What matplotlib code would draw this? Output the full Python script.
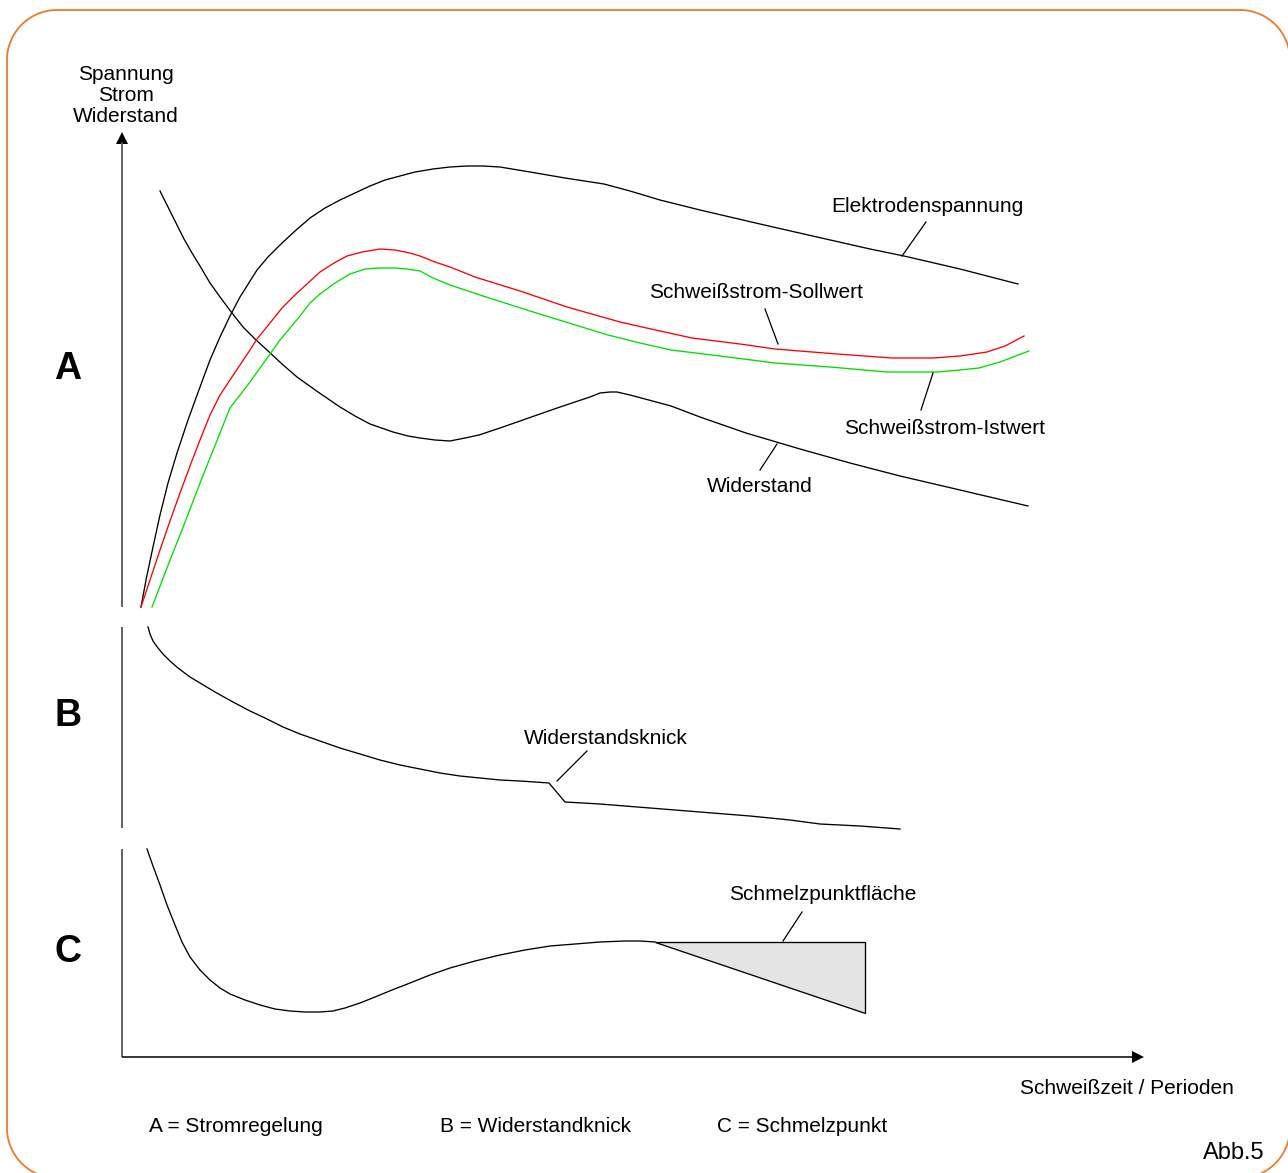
import numpy as np
import matplotlib
matplotlib.use("Agg")
import matplotlib.pyplot as plt
from matplotlib.patches import Polygon

plt.rcParams['font.family'] = ['Liberation Sans', 'DejaVu Sans']

# ---------------- data (diagram coordinates, y grows downward) ----------------
# Panel A
elektroden_x = [141, 146, 153, 160, 168, 177, 188, 200, 210, 220, 230, 240, 257, 268, 280, 295, 310, 325, 340, 355,
                370, 385, 400, 415, 433, 450, 467, 483, 500, 530, 565, 604, 630, 660, 700, 760, 817, 870, 904, 960,
                1018]
elektroden_y = [607, 580, 547, 515, 483, 453, 420, 387, 360, 337, 316, 297, 270, 257, 245, 231, 218, 208, 200, 193,
                186, 180, 176, 172, 169, 167, 166, 166, 167, 172, 178, 184, 191, 200, 210, 224, 237, 249, 256, 269,
                284]

widerstand_x = [160, 168, 176, 184, 192, 200, 210, 220, 232, 243, 255, 267, 282, 297, 318, 340, 355, 370, 393, 408,
                420, 435, 450, 465, 479, 500, 520, 560, 590, 600, 610, 617, 630, 645, 671, 700, 746, 800, 850, 900,
                960, 1028]
widerstand_y = [191, 207, 223, 239, 253, 266, 283, 297, 313, 327, 339, 350, 364, 377, 392, 407, 416, 424, 432, 436,
                438, 440, 441, 438, 435, 428, 421, 407, 397, 393, 392, 392, 395, 399, 406, 417, 433, 449, 463, 476,
                490, 506]

soll_x = [141, 150, 160, 170, 180, 190, 200, 210, 220, 230, 240, 250, 257, 270, 282, 295, 308, 320, 334, 347, 362,
          380, 395, 410, 420, 435, 450, 475, 520, 567, 620, 660, 692, 740, 775, 837, 892, 933, 960, 987, 1005, 1024]
soll_y = [607, 580, 550, 521, 493, 466, 440, 415, 395, 380, 365, 350, 339, 323, 308, 295, 283, 272, 263, 256, 252,
          249, 250, 253, 256, 262, 267, 277, 291, 307, 322, 331, 338, 344, 349, 354, 358, 358, 356, 352, 346, 336]

ist_x = [152, 162, 172, 182, 192, 202, 212, 222, 230, 240, 250, 260, 270, 280, 290, 300, 310, 320, 335, 350, 365,
         380, 395, 407, 420, 433, 450, 483, 530, 608, 640, 671, 720, 775, 830, 887, 937, 960, 979, 1000, 1029]
ist_y = [607, 581, 555, 530, 504, 478, 453, 428, 408, 395, 382, 368, 354, 340, 328, 316, 303, 294, 283, 274, 269,
         268, 268, 269, 271, 278, 285, 296, 311, 335, 343, 350, 356, 363, 367, 372, 372, 370, 368, 362, 351]

# Panel B
knick_x = [148, 150, 153, 158, 163, 170, 178, 190, 200, 215, 233, 250, 265, 283, 300, 320, 340, 360, 380, 400, 420,
           440, 460, 480, 500, 520, 549, 565, 600, 650, 700, 750, 790, 820, 860, 900]
knick_y = [627, 634, 641, 648, 654, 661, 668, 677, 683, 692, 702, 711, 718, 727, 734, 741, 748, 754, 760, 765, 769,
           773, 776, 778, 780, 781, 783, 802, 804, 808, 812, 816, 820, 824, 826, 829]

# Panel C
schmelz_x = [147, 153, 160, 167, 175, 182, 190, 200, 210, 220, 230, 245, 260, 275, 290, 305, 320, 333, 345, 360,
             375, 392, 410, 430, 450, 475, 500, 525, 550, 575, 600, 625, 640, 655]
schmelz_y = [849, 866, 885, 905, 925, 942, 957, 970, 980, 988, 994, 1000, 1005, 1009, 1011, 1012, 1012, 1011, 1008,
             1003, 997, 990, 983, 975, 968, 961, 955, 950, 946, 944, 942, 941, 941, 942]

flaeche_x = [655, 865, 865]
flaeche_y = [942, 942, 1013]

# Leader lines: (x0, y0, x1, y1)
leaders = {
    "Elektrodenspannung": (926, 222, 902, 256),
    "Schweißstrom-Sollwert": (765, 309, 778, 344),
    "Schweißstrom-Istwert": (933, 373, 921, 410),
    "Widerstand": (777, 444, 760, 470),
    "Widerstandsknick": (587, 751, 557, 781),
    "Schmelzpunktfläche": (802, 912, 783, 941),
}
label_pos = {
    "Elektrodenspannung": (927, 207),
    "Schweißstrom-Sollwert": (756, 293),
    "Schweißstrom-Istwert": (945, 428),
    "Widerstand": (760, 487),
    "Widerstandsknick": (606, 738),
    "Schmelzpunktfläche": (823, 894),
}

panel_letters = ["A", "B", "C"]
panel_letter_y = [365, 712, 948]
legend_texts = ["A = Stromregelung", "B = Widerstandknick", "C = Schmelzpunkt"]
legend_x = [149, 440, 717]
y_label_lines = ["Spannung", "Strom", "Widerstand"]
x_label = "Schweißzeit / Perioden"
fig_label = "Abb.5"

# ---------------- drawing ----------------
W, H = 1288, 1173
fig = plt.figure(figsize=(W / 100, H / 100), dpi=100)
ax = fig.add_axes([0, 0, 1, 1])
ax.set_xlim(0, W)
ax.set_ylim(H, 0)
ax.axis('off')

# rounded orange frame (built from arcs)
def rounded_rect(x0, y0, x1, y1, r, n=30):
    xs, ys = [], []
    corners = [(x1 - r, y0 + r, -90, 0), (x1 - r, y1 - r, 0, 90),
               (x0 + r, y1 - r, 90, 180), (x0 + r, y0 + r, 180, 270)]
    for cx, cy, a0, a1 in corners:
        t = np.radians(np.linspace(a0, a1, n))
        xs.extend(cx + r * np.cos(t))
        ys.extend(cy + r * np.sin(t))
    xs.append(xs[0]); ys.append(ys[0])
    return xs, ys

fx, fy = rounded_rect(7, 10, 1290, 1178, 50)
ax.plot(fx, fy, color='#F07A2A', lw=1.3)

axis_col = '#555555'
for y0, y1 in [(142, 607), (627, 828), (849, 1057)]:
    ax.plot([122, 122], [y0, y1], color=axis_col, lw=1.3, solid_capstyle='butt')
ax.add_patch(Polygon([[122, 132], [116, 144], [128, 144]], closed=True, fc='black', ec='none'))
ax.plot([122, 1133], [1057, 1057], color='black', lw=1.1, solid_capstyle='butt')
ax.add_patch(Polygon([[1144, 1057], [1132, 1051], [1132, 1063]], closed=True, fc='black', ec='none'))

lw = 0.95
ax.plot(elektroden_x, elektroden_y, color='black', lw=lw)
ax.plot(widerstand_x, widerstand_y, color='black', lw=lw)
ax.plot(soll_x, soll_y, color='#FF0000', lw=lw)
ax.plot(ist_x, ist_y, color='#00E000', lw=lw)
ax.plot(knick_x, knick_y, color='black', lw=lw)
ax.plot(schmelz_x, schmelz_y, color='black', lw=lw)
ax.fill(flaeche_x, flaeche_y, fc='#E4E4E4', ec='black', lw=lw, closed=True)

fs = 15
for name, (x0, y0, x1, y1) in leaders.items():
    ax.plot([x0, x1], [y0, y1], color='black', lw=0.9)
for name, (x, y) in label_pos.items():
    ax.text(x, y, name, ha='center', va='center', fontsize=fs, color='black')

for letter, y in zip(panel_letters, panel_letter_y):
    ax.text(68, y + 4, letter, ha='center', va='center', fontsize=27, fontweight='bold', color='black')

for txt, x in zip(legend_texts, legend_x):
    ax.text(x, 1126, txt, ha='left', va='center', fontsize=fs, color='black')

for i, line in enumerate(y_label_lines):
    ax.text(126, 75 + i * 20.5, line, ha='center', va='center', fontsize=fs, color='black')

ax.text(1020, 1088, x_label, ha='left', va='center', fontsize=fs, color='black')
ax.text(1265, 1153, fig_label, ha='right', va='center', fontsize=17, color='black')

fig.savefig('out.png', dpi=100)
